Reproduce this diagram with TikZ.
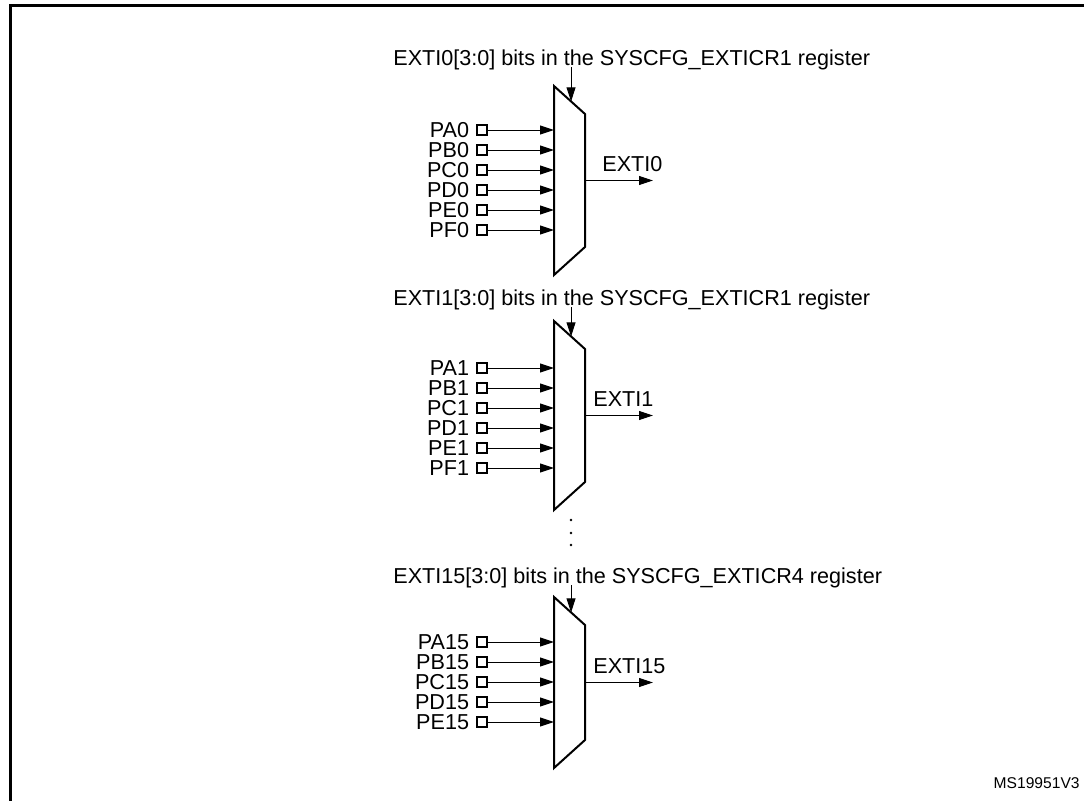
\documentclass[tikz,border=0pt]{standalone}
\usepackage{fontspec}
\setmainfont{Liberation Sans}
\usetikzlibrary{arrows.meta,calc}

\begin{document}
\begin{tikzpicture}[x=0.5pt,y=-0.5pt,
	font=\fontsize{10.8}{12}\selectfont,
	wire/.style={line width=0.5pt,-{Triangle[length=7pt,width=4.5pt]}},
	pad/.style={draw,line width=0.9pt,inner sep=0pt,minimum size=5pt},
	muxbody/.style={line width=1pt,line join=miter}]
	\useasboundingbox (0,0) rectangle (1084,800);
	\draw[line width=1.5pt] (1090,5) -- (10,5) -- (10,810);

	% one multiplexer per EXTI line
	\foreach \n/\top/\h/\r/\ins/\reg/\lx/\ly in {0/86/189/44/{A,B,C,D,E,F}/1/602/65, 1/321/189/47/{A,B,C,D,E,F}/1/593/305, 15/597/171/45/{A,B,C,D,E}/4/593/583}{
		\pgfmathsetmacro\mid{\top+\h/2}
		\draw[muxbody] (554,\top) coordinate (tl\n) -- (585,\top+28) coordinate (tr\n) -- (585,\top+\h-28) -- (554,\top+\h) -- cycle;
		\coordinate (sel\n) at ($(tl\n)!0.55!(tr\n)$);
		\node[anchor=base west,inner sep=0pt] (reg\n) at (393,\ly) {EXTI\n[3:0] bits in the SYSCFG\_EXTICR\reg{} register};
		\draw[wire] ([yshift=-1pt]sel\n |- reg\n.base) -- (sel\n);
		\foreach \p [count=\i] in \ins {
			\node[pad] (p\p\n) at (482,\top+\r-20+20*\i) {};
			\node[anchor=east] (l\p\n) at (p\p\n.west) {P\p\n};
			\draw[wire] (p\p\n) -- (p\p\n -| tl\n);
		}
		\coordinate (o\n) at (585,\mid);
		\coordinate (out\n) at (653,\mid);
		\draw[wire] (o\n) -- (out\n);
		\node[anchor=base west,inner sep=0pt] (exti\n) at (\lx,\mid-9) {EXTI\n};
	}

	% lines in between
	\foreach \d in {520,533,545}
		\fill (571,\d) circle (0.7pt);

	\node[anchor=base east,inner sep=0pt,font=\fontsize{7.8}{9}\selectfont] (code) at (1080,788) {MS19951V3};
\end{tikzpicture}
\end{document}
